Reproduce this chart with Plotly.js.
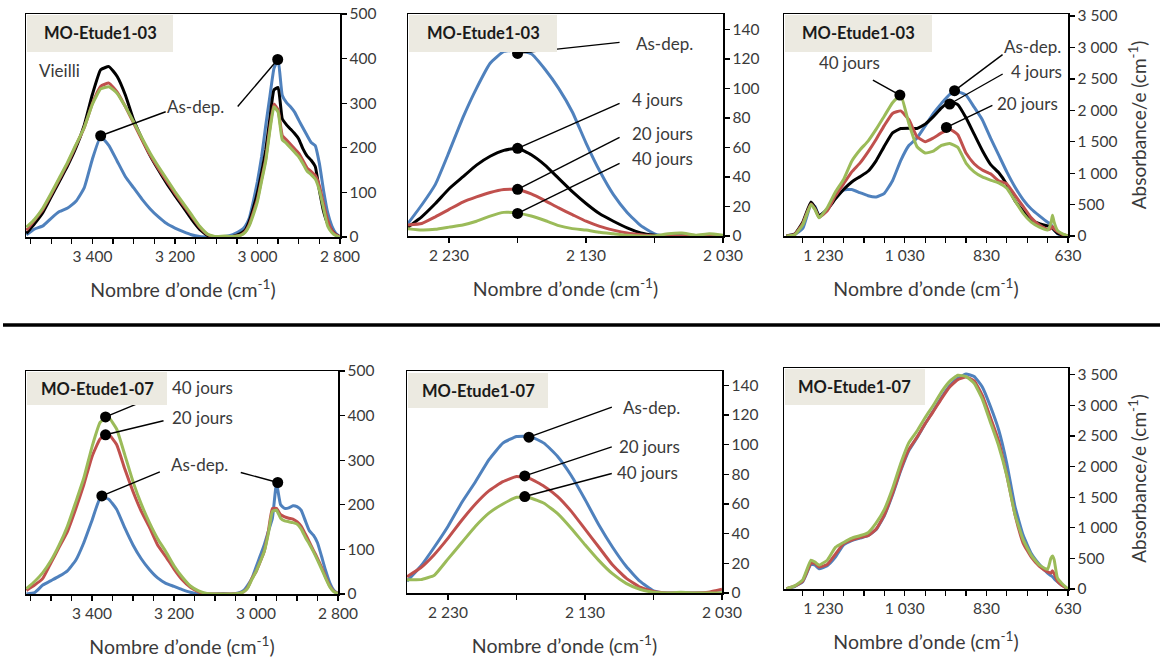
<!DOCTYPE html>
<html><head><meta charset="utf-8">
<script src="https://cdn.plot.ly/plotly-3.0.1.min.js"></script>
<style>html,body{margin:0;padding:0;background:#fff}#chart{width:1160px;height:658px}</style>
</head><body><div id="chart"></div>
<script>
// ---------- DATA ----------
const seriesNames = ['As-dep.', '4 jours', '20 jours', '40 jours'];

// Panel 1 & 4 : 3600-2800 cm-1 region
const wnOH = [3560,3540,3520,3500,3480,3460,3440,3420,3400,3380,3360,3340,3320,3300,3280,3260,3240,3220,3200,3180,3160,3140,3120,3100,3080,3060,3040,
              3030,3020,3010,3000,2990,2980,2970,2960,2950,2940,2930,2920,2910,2900,2890,2880,2870,2860,2850,2840,2830,2820,2810,2800];
const p1AsDep = [5,18,25,42,57,65,80,110,175,225,205,170,135,110,85,63,45,30,20,12,5,1,0,0,1,5,15,
                 24,42,80,125,180,250,315,378,398,318,302,292,280,262,245,228,212,205,165,105,55,25,8,0];
const p1J4    = [8,30,55,90,125,160,200,250,320,375,382,360,318,262,220,182,150,120,93,67,40,17,3,0,0,1,8,
                 15,35,65,100,145,195,265,330,335,265,252,242,232,220,198,182,172,158,105,58,30,15,5,0];
const p1J20   = [15,38,62,95,130,165,205,245,300,338,345,325,292,255,218,183,153,125,98,72,47,22,5,0,0,1,5,
                 12,28,55,85,130,175,245,298,285,228,218,208,198,188,172,155,147,138,115,75,38,15,5,0];
const p1J40   = [22,40,65,98,133,168,207,245,298,332,337,322,292,258,222,188,158,130,102,76,50,24,6,1,2,1,4,
                 10,25,50,80,125,170,238,292,280,218,210,200,190,180,165,148,140,130,105,65,25,10,3,0];

const p4AsDep = [0,3,20,30,40,52,75,115,165,215,213,190,148,110,79,55,36,24,17,10,4,0,0,0,1,0,3,
                 8,20,35,60,85,110,140,170,248,200,192,193,198,196,188,165,142,132,115,84,52,25,8,1];
const p4J20   = [8,20,35,70,105,140,190,245,308,348,358,335,280,230,186,150,110,84,56,32,15,5,0,0,0,0,2,
                 5,15,35,50,72,95,140,192,192,178,173,170,168,162,152,135,117,98,80,60,38,18,6,1];
const p4J40   = [12,28,48,75,110,152,205,260,330,385,396,370,312,252,202,160,124,95,63,38,18,7,1,0,0,0,2,
                 5,14,33,50,72,95,135,185,188,170,164,162,160,157,146,128,112,95,76,56,35,16,5,1];

// Panel 2 & 5 : 2260-2030 cm-1 region
const wnCN = [2260,2250,2240,2230,2220,2210,2200,2190,2180,2170,2160,2150,2140,2130,2120,2110,2100,2090,2080,2070,2060,2050,2040,2030];
const p2AsDep = [8.5,21,35,57,80,100,117,125,126,123.5,113,100,84,63,44,28,16,7,1.5,0,0,0,0.5,0];
const p2J4    = [6,13,22,32,40,48,54,58,59.5,55,48,39,30,22,15,10,5.5,2,0.5,0,0,0,0,0];
const p2J20   = [7.5,8.5,13,18,23,26.5,29.5,31.5,31.5,28.5,24,19,14.5,10,6.5,4,2,0.8,0,0,0,0,0,0];
const p2J40   = [5,4,4.5,6,7.5,10,13.5,16,15.5,13.5,10.5,7,5,4,2.5,1.5,0.5,0,0,1.5,2,0.5,1.5,0.5];

const p5AsDep = [8,18,31,45,61,75,90,101,105.5,105.5,101,92,79,63,46,31,18,8,1.5,0,0,0,0,0];
const p5J20   = [11,17,26,37,49,60,69,75,78.5,77,72,65,55,43,31,19,10,4,1,0,0,0,0.5,2.5];
const p5J40   = [9,9,12,23,34,45,54,60,64.5,64,60.5,53.5,43.5,32.5,22,13,6.5,2.5,0.5,0,0.5,0,0,0];

// Panel 3 & 6 : 1326-630 cm-1 region
const wnSi = [1320,1300,1280,1260,1250,1240,1220,1200,1180,1160,1140,1120,1100,1080,1060,1040,1020,1000,980,960,940,920,900,880,860,840,820,800,780,760,740,720,700,680,672,668,664,656,645,630];
const p3AsDep = [0,20,120,500,470,320,430,600,730,740,690,640,620,680,880,1200,1440,1560,1750,1950,2110,2250,2295,2240,2050,1850,1560,1290,1020,780,580,430,320,220,190,130,95,40,15,0];
const p3J4    = [0,30,220,540,450,320,420,590,740,860,944,1030,1200,1430,1640,1710,1715,1710,1780,1900,2040,2130,2090,1880,1620,1360,1140,1010,820,560,400,260,195,160,140,120,95,45,20,0];
const p3J20   = [0,25,200,510,430,300,400,640,830,1020,1160,1340,1540,1760,1950,1990,1850,1580,1500,1560,1640,1700,1610,1320,1150,1050,990,880,830,650,470,290,170,105,120,150,110,70,30,0];
const p3J40   = [0,20,180,500,420,290,450,700,900,1190,1368,1510,1700,1910,2120,2240,1790,1420,1320,1350,1440,1470,1410,1160,1020,940,890,845,760,560,360,220,140,95,200,330,220,90,40,0];

const p6AsDep = [5,40,120,400,390,330,380,520,720,790,830,870,970,1200,1540,1930,2260,2470,2700,2910,3130,3320,3440,3510,3470,3300,2980,2600,2050,1350,880,580,400,260,220,200,170,120,60,0];
const p6J20   = [5,45,130,420,420,360,400,570,740,800,840,870,980,1210,1560,1950,2280,2480,2700,2900,3110,3300,3420,3460,3400,3160,2800,2420,1860,1220,750,520,370,280,260,300,250,130,60,0];
const p6J40   = [5,50,150,470,440,390,470,680,760,830,870,920,1080,1300,1640,2050,2390,2580,2800,3000,3220,3391,3490,3470,3360,3100,2720,2340,1850,1220,806,550,390,320,500,540,480,180,90,0];

// Labelled points (dot positions on curves) and their texts
const p1DotX = [3380, 2951];           const p1DotY = [227, 398];
const p1DotText = ['As-dep.', ''];
const p2DotX = [2180, 2180, 2180, 2180]; const p2DotY = [123.7, 59.4, 31.6, 15.3];
const p2DotText = ['As-dep.', '4 jours', '20 jours', '40 jours'];
const p3DotX = [1042, 908, 920, 928];   const p3DotY = [2243, 2312, 2100, 1728];
const p3DotText = ['40 jours', 'As-dep.', '4 jours', '20 jours'];
const p4DotX = [3367, 3367, 3376, 2947]; const p4DotY = [397, 357, 220, 250];
const p4DotText = ['40 jours', '20 jours', 'As-dep.', ''];
const p5DotX = [2171, 2174, 2174];      const p5DotY = [105, 78.9, 65];
const p5DotText = ['As-dep.', '20 jours', '40 jours'];

const sampleNames = ['MO-Etude1-03', 'MO-Etude1-07'];

// Tick labels
const xTickValsA = [3400,3200,3000,2800];
const xTickTextA = ['3 400','3 200','3 000','2 800'];
const xMinorA = [3550,3500,3450,3350,3300,3250,3150,3100,3050,2950,2900,2850];
const xTickValsB = [2230,2130,2030];
const xTickTextB = ['2 230','2 130','2 030'];
const xMinorB = [2180,2080];
const xTickValsC = [1230,1030,830,630];
const xTickTextC = ['1 230','1 030','830','630'];
const xMinorC = [1280,1180,1130,1080,980,930,880,780,730,680];
const yTickValsA = [0,100,200,300,400,500];
const yTickValsB = [0,20,40,60,80,100,120,140];
const yTickValsC = [0,500,1000,1500,2000,2500,3000,3500];
const yTickTextC = ['0','500','1 000','1 500','2 000','2 500','3 000','3 500'];

// ---------- STYLE / LAYOUT ----------
const W = 1160, H = 658;
const FONT = 'Lato, "Open Sans", "DejaVu Sans", sans-serif';
const TXT = '#3a3a3a';
const COL = {asdep: '#4F81BD', j4: '#000000', j20: '#C0504D', j40: '#9BBB59'};

// pixel boxes of the six plot areas [left, right, top, bottom]
const boxes = [
  [26, 340, 14, 237], [408, 723, 14, 236], [784, 1068, 14, 236],
  [26, 338, 371, 594], [407, 722, 371, 593], [784, 1068, 368, 589]
];
const xRanges = [[3561, 2800], [2260, 2030], [1326, 630], [3561, 2800], [2260, 2030], [1326, 630]];
const yRanges = [[0, 500], [0, 150.4], [0, 3532], [0, 500], [0, 149.6], [0, 3609]];
const xTicks = [[xTickValsA, xTickTextA, xMinorA], [xTickValsB, xTickTextB, xMinorB], [xTickValsC, xTickTextC, xMinorC],
                [xTickValsA, xTickTextA, xMinorA], [xTickValsB, xTickTextB, xMinorB], [xTickValsC, xTickTextC, xMinorC]];
const yTicks = [[yTickValsA, yTickValsA.map(String)], [yTickValsB, yTickValsB.map(String)], [yTickValsC, yTickTextC],
                [yTickValsA, yTickValsA.map(String)], [yTickValsB, yTickValsB.map(String)], [yTickValsC, yTickTextC]];

const layout = {
  width: W, height: H, margin: {l: 0, r: 0, t: 0, b: 0},
  paper_bgcolor: '#ffffff', plot_bgcolor: '#ffffff',
  showlegend: false, font: {family: FONT, color: TXT, size: 15},
  shapes: [], annotations: []
};

boxes.forEach((b, i) => {
  const n = i + 1;
  const xk = 'xaxis' + (n === 1 ? '' : n), yk = 'yaxis' + (n === 1 ? '' : n);
  layout[xk] = {
    domain: [b[0] / W, b[1] / W], range: xRanges[i], autorange: false,
    anchor: 'y' + (n === 1 ? '' : n),
    tickmode: 'array', tickvals: xTicks[i][0], ticktext: xTicks[i][1],
    ticks: 'outside', ticklen: 5, tickwidth: 1.3, tickcolor: '#000',
    minor: {tickmode: 'array', tickvals: xTicks[i][2], ticks: 'outside', ticklen: 5, tickwidth: 1.3, tickcolor: '#000', showgrid: false},
    showline: true, linecolor: '#000', linewidth: 1.5, mirror: true,
    showgrid: false, zeroline: false,
    tickfont: {family: FONT, size: 15.5, color: TXT},
    title: {text: 'Nombre d\u2019onde (cm<sup>-1</sup>)', font: {family: FONT, size: 19.5, color: TXT}, standoff: 19}
  };
  layout[yk] = {
    domain: [1 - b[3] / H, 1 - b[2] / H], range: yRanges[i], autorange: false,
    anchor: 'x' + (n === 1 ? '' : n), side: 'right',
    tickmode: 'array', tickvals: yTicks[i][0], ticktext: yTicks[i][1],
    ticks: 'outside', ticklen: 5, tickwidth: 1.3, tickcolor: '#000',
    showline: true, linecolor: '#000', linewidth: 1.5, mirror: true,
    showgrid: false, zeroline: false,
    tickfont: {family: FONT, size: 15.5, color: TXT}
  };
  if (n === 3 || n === 6) {
    layout[yk].title = {text: 'Absorbance/e (cm<sup>-1</sup>)', font: {family: FONT, size: 19, color: TXT}, standoff: 16};
  }
});

const traces = [];
function addLine(n, xs, ys, color) {
  const s = n === 1 ? '' : String(n);
  traces.push({type: 'scatter', mode: 'lines', x: xs, y: ys, xaxis: 'x' + s, yaxis: 'y' + s,
    line: {color: color, width: 3, shape: 'spline', smoothing: 0.4}, hoverinfo: 'skip'});
}
addLine(1, wnOH, p1AsDep, COL.asdep); addLine(1, wnOH, p1J4, COL.j4); addLine(1, wnOH, p1J20, COL.j20); addLine(1, wnOH, p1J40, COL.j40);
addLine(2, wnCN, p2AsDep, COL.asdep); addLine(2, wnCN, p2J4, COL.j4); addLine(2, wnCN, p2J20, COL.j20); addLine(2, wnCN, p2J40, COL.j40);
addLine(3, wnSi, p3AsDep, COL.asdep); addLine(3, wnSi, p3J4, COL.j4); addLine(3, wnSi, p3J20, COL.j20); addLine(3, wnSi, p3J40, COL.j40);
addLine(4, wnOH, p4AsDep, COL.asdep); addLine(4, wnOH, p4J20, COL.j20); addLine(4, wnOH, p4J40, COL.j40);
addLine(5, wnCN, p5AsDep, COL.asdep); addLine(5, wnCN, p5J20, COL.j20); addLine(5, wnCN, p5J40, COL.j40);
addLine(6, wnSi, p6AsDep, COL.asdep); addLine(6, wnSi, p6J20, COL.j20); addLine(6, wnSi, p6J40, COL.j40);

// leader-line end offsets and text offsets (pixels, y up) for each labelled dot
const leadStyle = {
  1: {lead: [[65, 24], [-40, -47]], text: [[95, 29], null]},
  2: {lead: [[102, 11], [102, 45], [102, 52], [102, 50]], text: [[147, 10], [140, 49], [145, 56], [145, 55]]},
  3: {lead: [[-27, 15], [48, 36], [53, 30], [46, 22]], text: [[-50, 33], [78, 44], [87, 33], [81, 24]]},
  4: {lead: [[58, 24], [58, 14], [58, 24], [-37, 10]], text: [[97, 29], [97, 17], [98, 31], null]},
  5: {lead: [[83, 30], [87, 29], [87, 23]], text: [[123, 30], [125, 29], [123, 24]]}
};
const dotSets = {1: [p1DotX, p1DotY, p1DotText], 2: [p2DotX, p2DotY, p2DotText], 3: [p3DotX, p3DotY, p3DotText],
                 4: [p4DotX, p4DotY, p4DotText], 5: [p5DotX, p5DotY, p5DotText]};
Object.keys(dotSets).forEach(k => {
  const n = +k, s = n === 1 ? '' : String(n);
  const [dx, dy, dt] = dotSets[k];
  const st = leadStyle[n];
  dx.forEach((x, j) => {
    const y = dy[j];
    layout.shapes.push({type: 'line', xref: 'x' + s, yref: 'y' + s,
      xsizemode: 'pixel', ysizemode: 'pixel', xanchor: x, yanchor: y,
      x0: 0, y0: 0, x1: st.lead[j][0], y1: st.lead[j][1],
      line: {color: '#000', width: 1.4}, layer: 'above'});
    if (dt[j] && st.text[j]) {
      layout.annotations.push({xref: 'x' + s, yref: 'y' + s, x: x, y: y,
        xshift: st.text[j][0], yshift: st.text[j][1], text: dt[j], showarrow: false,
        font: {family: FONT, size: 17, color: TXT}});
    }
  });
  traces.push({type: 'scatter', mode: 'markers', x: dx, y: dy, xaxis: 'x' + s, yaxis: 'y' + s,
    marker: {color: '#000', size: 11}, cliponaxis: false, hoverinfo: 'skip'});
});

// sample-name boxes [left, right, top, bottom] in pixels
const nameBoxes = [[27, 173, 15, 52], [409, 557, 15, 52], [785, 932, 15, 52],
                   [27, 167, 372, 405], [408, 548, 373, 408], [785, 925, 369, 405]];
nameBoxes.forEach((b, i) => {
  layout.shapes.push({type: 'rect', xref: 'paper', yref: 'paper',
    x0: b[0] / W, x1: b[1] / W, y0: 1 - b[3] / H, y1: 1 - b[2] / H,
    fillcolor: '#ECEAE1', line: {width: 0}, layer: 'above'});
  layout.annotations.push({xref: 'paper', yref: 'paper', x: (b[0] + b[1]) / 2 / W, y: 1 - (b[2] + b[3]) / 2 / H,
    text: '<b>' + sampleNames[i < 3 ? 0 : 1] + '</b>', showarrow: false, xanchor: 'center', yanchor: 'middle',
    font: {family: FONT, size: 16.5, color: '#1a1a1a'}});
});

layout.annotations.push({xref: 'paper', yref: 'paper', x: 37 / W, y: 1 - 70 / H, xanchor: 'left', yanchor: 'middle',
  text: 'Vieilli', showarrow: false, font: {family: FONT, size: 17, color: TXT}});

// separator between the two samples
layout.shapes.push({type: 'line', xref: 'paper', yref: 'paper', x0: 3 / W, x1: 1, y0: 1 - 325 / H, y1: 1 - 325 / H,
  line: {color: '#000', width: 3.5}});

Plotly.newPlot('chart', traces, layout, {displayModeBar: false, staticPlot: true});
</script></body></html>
